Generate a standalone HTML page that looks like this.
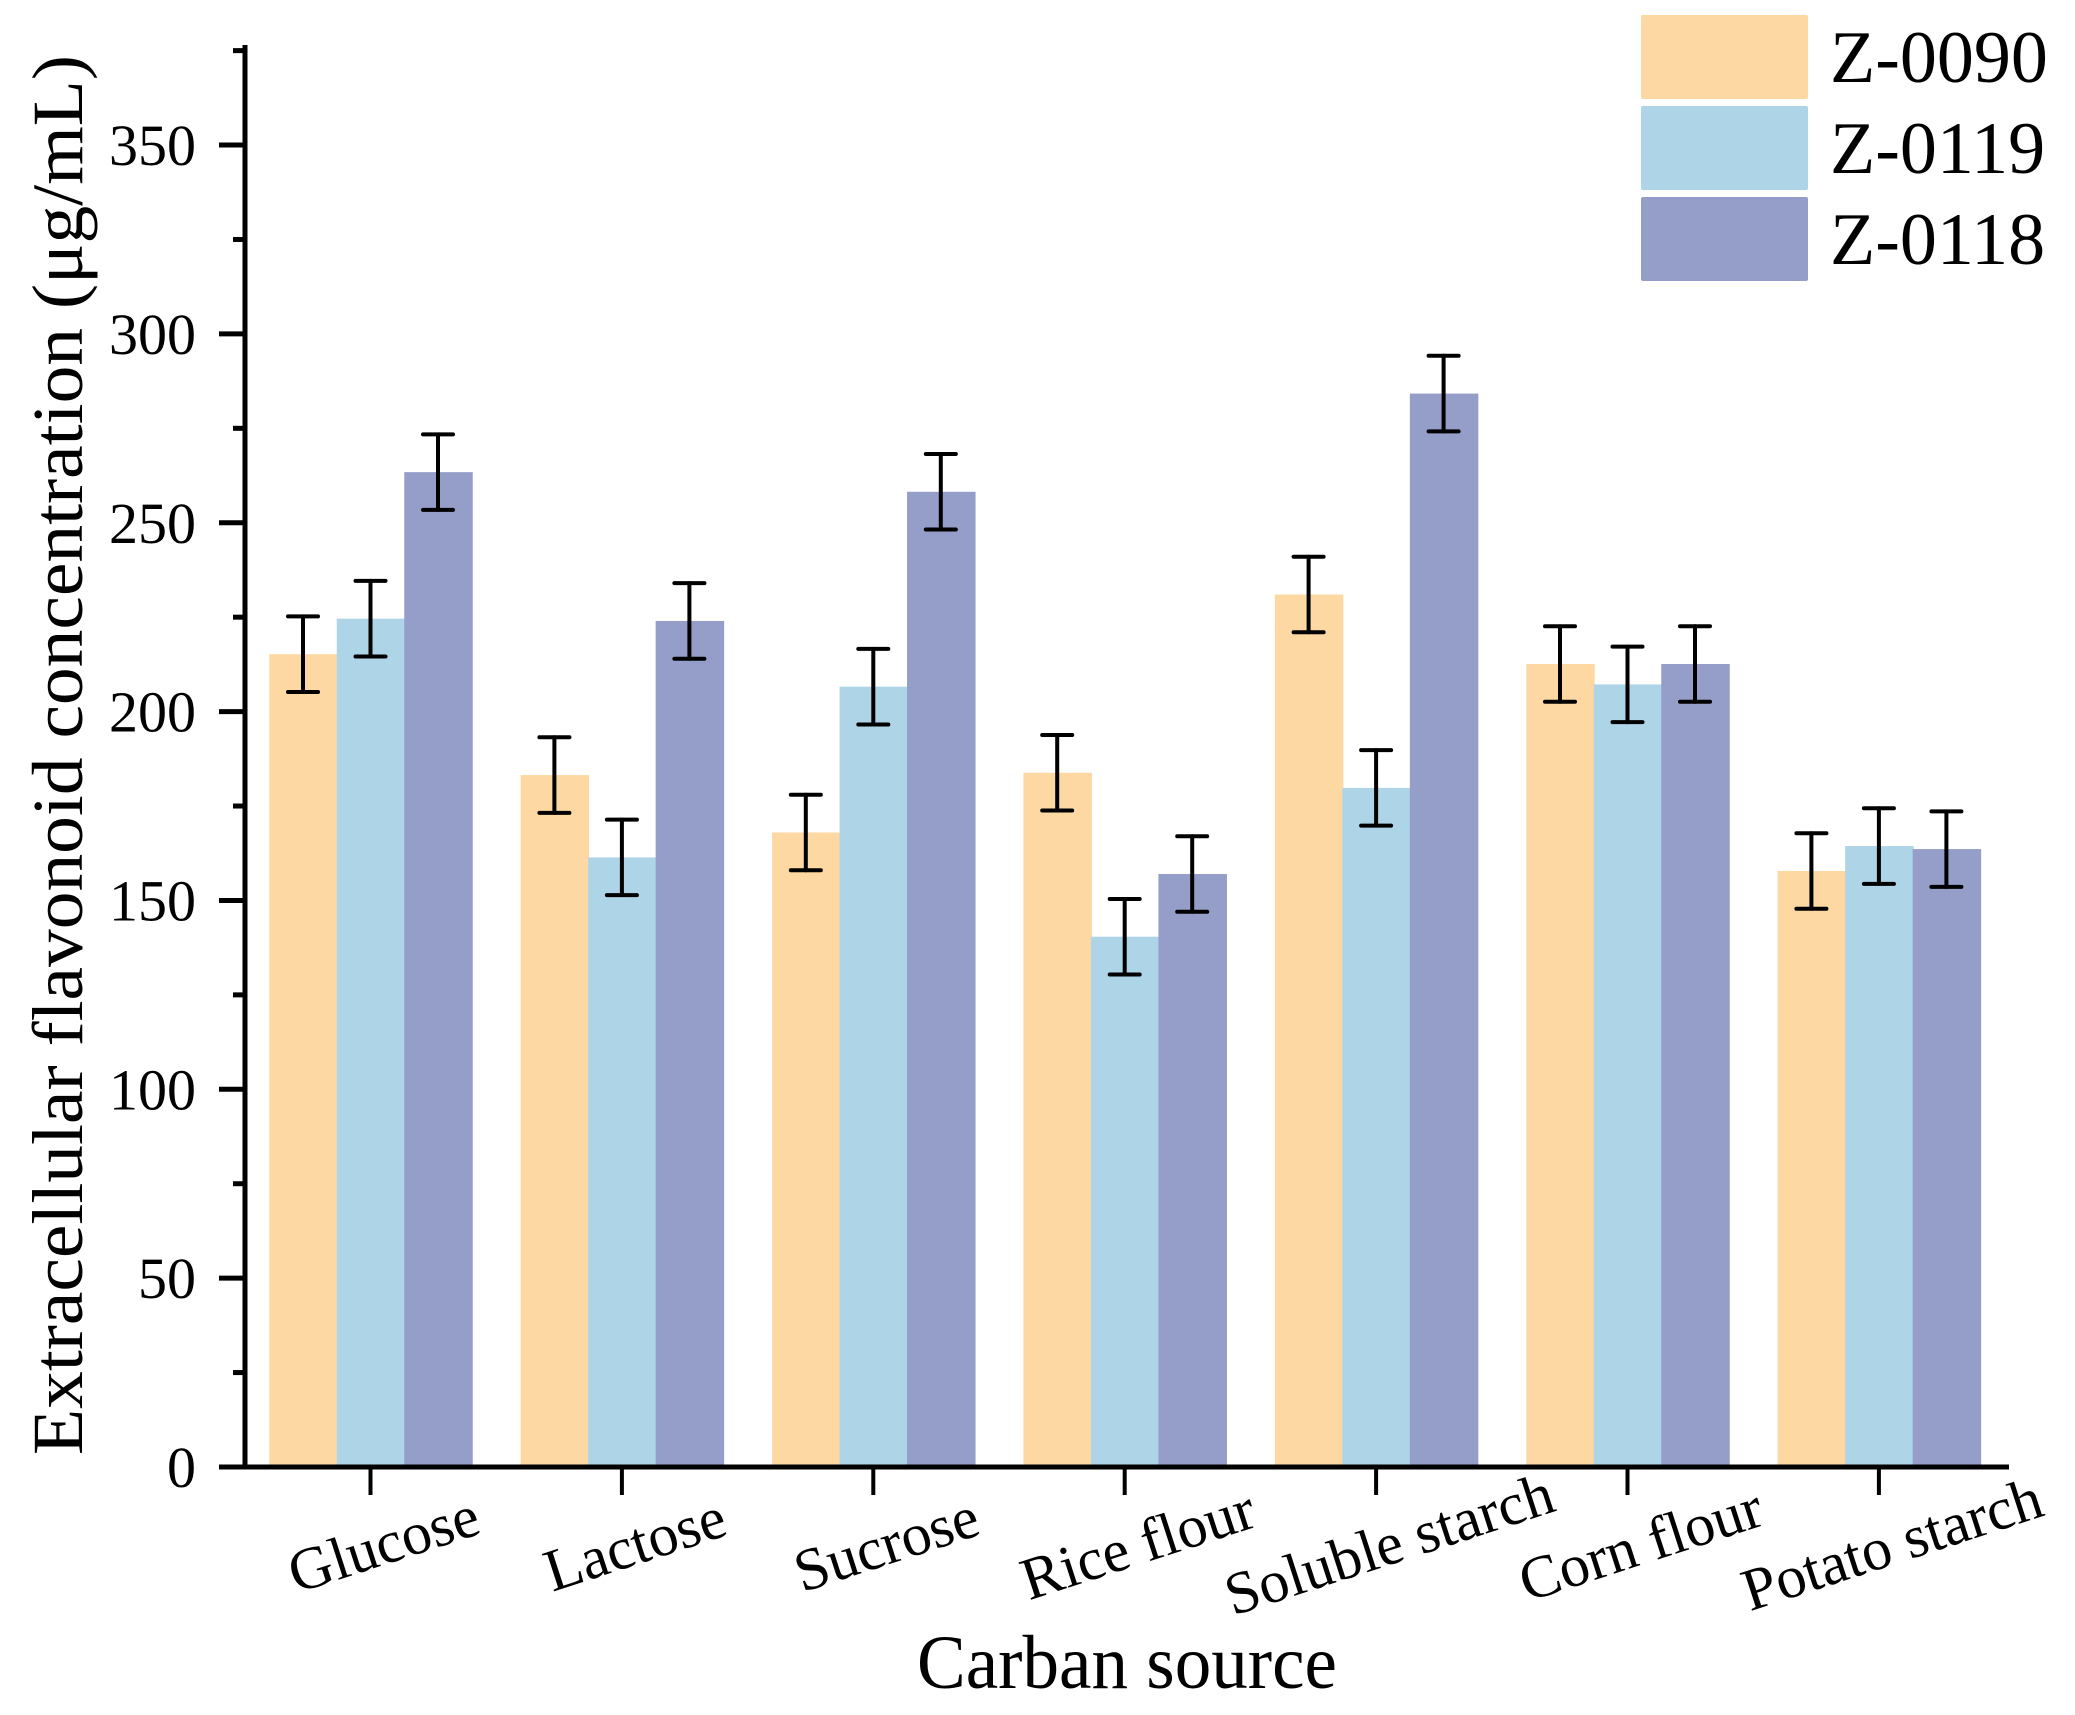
<!DOCTYPE html>
<html><head><meta charset="utf-8"><style>
html,body{margin:0;padding:0;background:#fff;}
svg{display:block;font-family:"Liberation Serif",serif;}
</style></head><body>
<svg id="chart" width="2075" height="1715" viewBox="0 0 2075 1715">
<g id="bars"></g>
<g id="errs"></g>
<g id="axes"></g>
<text transform="translate(82,755) rotate(-90)" text-anchor="middle" font-size="72" textLength="1400" lengthAdjust="spacingAndGlyphs">Extracellular flavonoid concentration (μg/mL)</text>
<text x="1127" y="1688" text-anchor="middle" font-size="76" textLength="420" lengthAdjust="spacingAndGlyphs">Carban source</text>
<g>
<rect x="1641" y="15" width="167" height="84" rx="2" fill="#FDD8A3"/>
<rect x="1641" y="106" width="167" height="84" rx="2" fill="#AED5E7"/>
<rect x="1641" y="197" width="167" height="84" rx="2" fill="#959DC9"/>
<text x="1830" y="82" font-size="74">Z-0090</text>
<text x="1830" y="173" font-size="74">Z-0119</text>
<text x="1830" y="264" font-size="74">Z-0118</text>
</g>
</svg>
<script>
const categories = ["Glucose","Lactose","Sucrose","Rice flour","Soluble starch","Corn flour","Potato starch"];
const seriesNames = ["Z-0090","Z-0119","Z-0118"];
const z0090 = [215.2, 183.2, 168.0, 183.8, 231.0, 212.6, 157.8];
const z0119 = [224.6, 161.4, 206.6, 140.4, 179.8, 207.2, 164.4];
const z0118 = [263.4, 224.0, 258.2, 157.0, 284.2, 212.6, 163.6];
const errs0090 = [10, 10, 10, 10, 10, 10, 10];
const errs0119 = [10, 10, 10, 10, 10, 10, 10];
const errs0118 = [10, 10, 10, 10, 10, 10, 10];
const yTicks = [0, 50, 100, 150, 200, 250, 300, 350];
const yMinor = [25, 75, 125, 175, 225, 275, 325, 375];

const NS = "http://www.w3.org/2000/svg";
const colors = ["#FDD8A3","#AED5E7","#959DC9"];
const Y0 = 1467, K = 3.777;
function yScale(v){ return Y0 - v*K; }
const X0 = 370.5, STEP = 251.4, BW = 67.5;
function xScale(i){ return X0 + i*STEP; }
function mk(tag, attrs, parent){
  const e = document.createElementNS(NS, tag);
  for (const k in attrs) e.setAttribute(k, attrs[k]);
  parent.appendChild(e);
  return e;
}
const bars = document.getElementById('bars');
const errsG = document.getElementById('errs');
const axes = document.getElementById('axes');
const series = [z0090, z0119, z0118];
const errs = [errs0090, errs0119, errs0118];
categories.forEach((c, i) => {
  series.forEach((s, j) => {
    const x = xScale(i) - 1.5*BW + j*BW;
    const r = mk('rect', {x: x, y: yScale(s[i]), width: BW+1, height: yScale(0)-yScale(s[i]), fill: colors[j]}, bars);
    
    
    const cx = x + BW/2, t = yScale(s[i] + errs[j][i]), b = yScale(s[i] - errs[j][i]);
    const g = mk('g', {stroke: '#000', 'stroke-width': 4, 'stroke-linecap': 'round'}, errsG);
    
    
    mk('line', {x1: cx, x2: cx, y1: t, y2: b}, g);
    mk('line', {x1: cx-15, x2: cx+15, y1: t, y2: t}, g);
    mk('line', {x1: cx-15, x2: cx+15, y1: b, y2: b}, g);
  });
  const tk = mk('line', {x1: xScale(i), x2: xScale(i), y1: Y0, y2: Y0+28, stroke: '#000', 'stroke-width': 4}, axes);
  
  
  const lx = xScale(i) + 15, ly = 1550;
  const tl = mk('text', {x: lx, y: ly, 'text-anchor': 'middle', 'dominant-baseline': 'middle', 'font-size': 60, transform: 'rotate(-18 ' + lx + ' ' + ly + ')'}, axes);
  
  
  tl.textContent = c;
});
const ya = mk('line', {x1: 245, x2: 245, y1: 45, y2: Y0+2, stroke: '#000', 'stroke-width': 5}, axes);


const xa = mk('line', {x1: 220, x2: 2009, y1: Y0, y2: Y0, stroke: '#000', 'stroke-width': 5}, axes);


yTicks.forEach(v => {
  const t = mk('line', {x1: 219, x2: 245, y1: yScale(v), y2: yScale(v), stroke: '#000', 'stroke-width': 5}, axes);
  
  
  const l = mk('text', {x: 196, y: yScale(v)+20, 'text-anchor': 'end', 'font-size': 58}, axes);
  
  
  l.textContent = v;
});
yMinor.forEach(v => {
  const t = mk('line', {x1: 233, x2: 245, y1: yScale(v), y2: yScale(v), stroke: '#000', 'stroke-width': 5}, axes);
  
  
});
</script>
</body></html>
